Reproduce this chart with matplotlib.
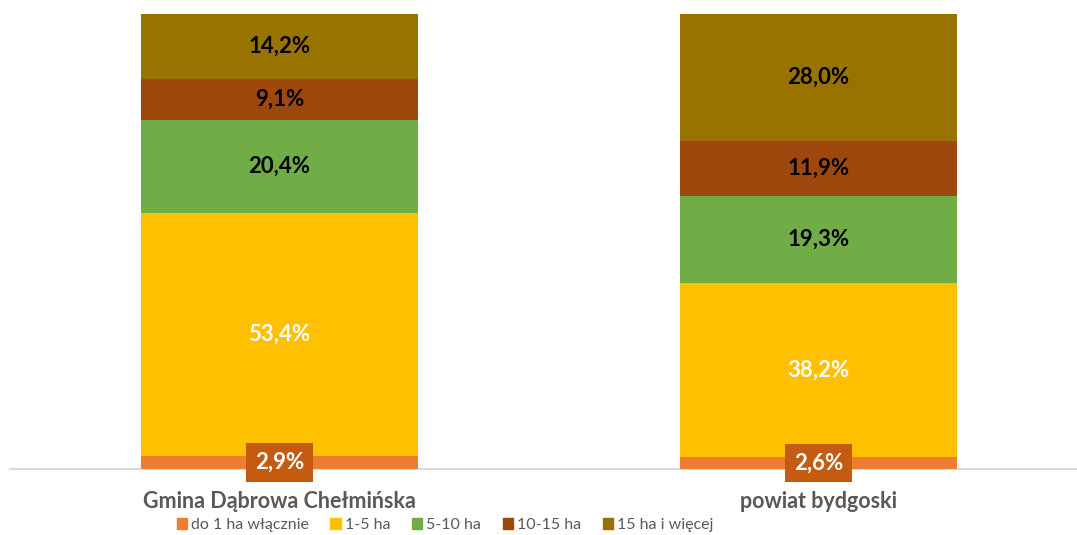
import numpy as np
import matplotlib.pyplot as plt
from matplotlib.patches import Patch

# share of farms by area group, percent
regions = ['Gmina Dąbrowa Chełmińska', 'powiat bydgoski']
groups = ['do 1 ha włącznie', '1-5 ha', '5-10 ha', '10-15 ha', '15 ha i więcej']
do_1ha = [2.9, 2.6]
ha_1_5 = [53.4, 38.2]
ha_5_10 = [20.4, 19.3]
ha_10_15 = [9.1, 11.9]
ha_15_plus = [14.2, 28.0]

colors = ['#ED7D31', '#FFC000', '#70AD47', '#9E480E', '#997300']
label_colors = ['white', 'white', 'black', 'black', 'black']

plt.rcParams['font.family'] = ['Lato', 'DejaVu Sans']

W, H = 1077, 535
fig = plt.figure(figsize=(W / 100, H / 100), dpi=100)
ax = fig.add_axes([10 / W, (H - 469) / H, 1067 / W, 455 / H])

series = [do_1ha, ha_1_5, ha_5_10, ha_10_15, ha_15_plus]
x = np.arange(len(regions))
bottom = np.zeros(len(regions))

for i, vals in enumerate(series):
    vals = np.array(vals)
    ax.bar(x, vals, width=0.514, bottom=bottom, color=colors[i], zorder=2)
    for j, v in enumerate(vals):
        txt = f'{v:.1f}%'.replace('.', ',')
        yc = bottom[j] + v / 2
        if i == 0:
            ax.text(x[j], yc, txt, ha='center', va='center', fontsize=16, fontweight='bold',
                    color='white', zorder=5,
                    bbox=dict(boxstyle='square,pad=0.4', fc='#C55A11', ec='none'))
        else:
            ax.text(x[j], yc, txt, ha='center', va='center', fontsize=16, fontweight='bold',
                    color=label_colors[i], zorder=5)
    bottom += vals

ax.set_xlim(-0.5, -0.5 + 1067 / 539)
ax.set_ylim(0, 100)
ax.set_yticks([])
ax.set_xticks(x)
ax.set_xticklabels(regions, fontsize=15.5, fontweight='bold', color='#595959')
ax.tick_params(axis='x', length=0, pad=16)
for s in ['top', 'right', 'left']:
    ax.spines[s].set_visible(False)
ax.spines['bottom'].set_color('#D9D9D9')
ax.spines['bottom'].set_linewidth(1.5)
ax.spines['bottom'].set_zorder(1)

handles = [Patch(color=c, label=g) for c, g in zip(colors, groups)]
fig.legend(handles=handles, loc='center', bbox_to_anchor=(445 / W, 1 - 525 / H), ncol=5,
           frameon=False, fontsize=11.5, handlelength=0.65, handleheight=0.65,
           handletextpad=0.25, columnspacing=1.35, labelcolor='#595959',
           borderpad=0, borderaxespad=0)

fig.savefig('out.png', dpi=100)
